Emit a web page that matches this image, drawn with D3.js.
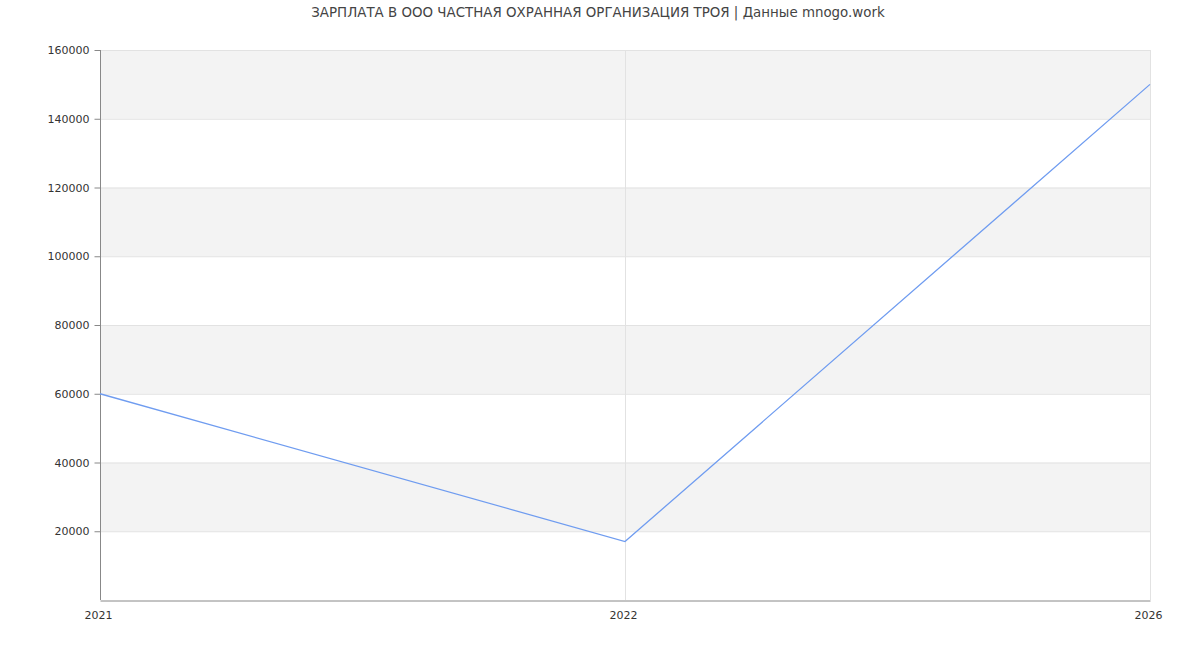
<!DOCTYPE html>
<html><head><meta charset="utf-8">
<script src="https://cdn.jsdelivr.net/npm/d3@7"></script>
<style>body{margin:0;background:#fff;font-family:"DejaVu Sans",sans-serif;}</style>
</head><body>
<svg id="c" width="1200" height="650"></svg>
<script>
const title = "ЗАРПЛАТА В ООО ЧАСТНАЯ ОХРАННАЯ ОРГАНИЗАЦИЯ ТРОЯ | Данные mnogo.work";
const years = ["2021", "2022", "2026"];
const salaries = [60000, 17000, 150000];
const yTicks = [20000, 40000, 60000, 80000, 100000, 120000, 140000, 160000];

const svg = d3.select("#c");
const m = {l:100, r:50, t:50, b:50};
const W = 1200, H = 650;
const x = d3.scalePoint().domain(years).range([m.l, W - m.r]);
const y = d3.scaleLinear().domain([0, 160000]).range([H - m.b, m.t]);

// bands
for (let i = 0; i < yTicks.length; i += 2) {
  const lo = yTicks[i], hi = yTicks[i+1];
  svg.append("rect").attr("x", m.l).attr("width", W - m.r - m.l)
    .attr("y", y(hi)).attr("height", y(lo) - y(hi)).attr("fill", "#f3f3f3");
}
// horizontal grid
svg.append("g").selectAll("line").data(yTicks).join("line")
  .attr("x1", m.l).attr("x2", W - m.r)
  .attr("y1", d => y(d) + 0.5).attr("y2", d => y(d) + 0.5)
  .attr("stroke", "#e2e2e2");
// vertical grid
svg.append("g").selectAll("line").data(years.slice(1)).join("line")
  .attr("x1", d => x(d) + 0.5).attr("x2", d => x(d) + 0.5)
  .attr("y1", m.t).attr("y2", H - m.b)
  .attr("stroke", "#e2e2e2");

// y axis
const ya = svg.append("g").attr("transform", `translate(${m.l + 0.5},0)`)
  .call(d3.axisLeft(y).tickValues(yTicks).tickSize(6).tickPadding(5).tickFormat(d3.format("d")));
ya.select(".domain").attr("stroke", "#888").attr("d", `M-0,${y(160000)}V${y(0)}`);
ya.selectAll(".tick line").attr("stroke", "#888");
ya.selectAll("text").attr("fill", "#333").style("font-size", "11px").style("font-family", "DejaVu Sans");

// x axis
const xa = svg.append("g").attr("transform", `translate(0,${H - m.b + 0.5})`)
  .call(d3.axisBottom(x).tickSize(0).tickPadding(11));
xa.select(".domain").attr("stroke", "#888");
xa.selectAll("text").attr("fill", "#333").attr("dx", "-2").style("font-size", "11px").style("font-family", "DejaVu Sans");

// line
const data = years.map((yr, i) => ({yr, v: salaries[i]}));
svg.append("path").datum(data)
  .attr("fill", "none").attr("stroke", "#6f9cf0").attr("stroke-width", 1.3)
  .attr("d", d3.line().x(d => x(d.yr)).y(d => y(d.v)));

// title
svg.append("text").attr("x", 598).attr("y", 17).attr("text-anchor", "middle")
  .attr("fill", "#444").style("font-size", "13.4px").style("font-family", "DejaVu Sans")
  .text(title);
</script>
</body></html>
